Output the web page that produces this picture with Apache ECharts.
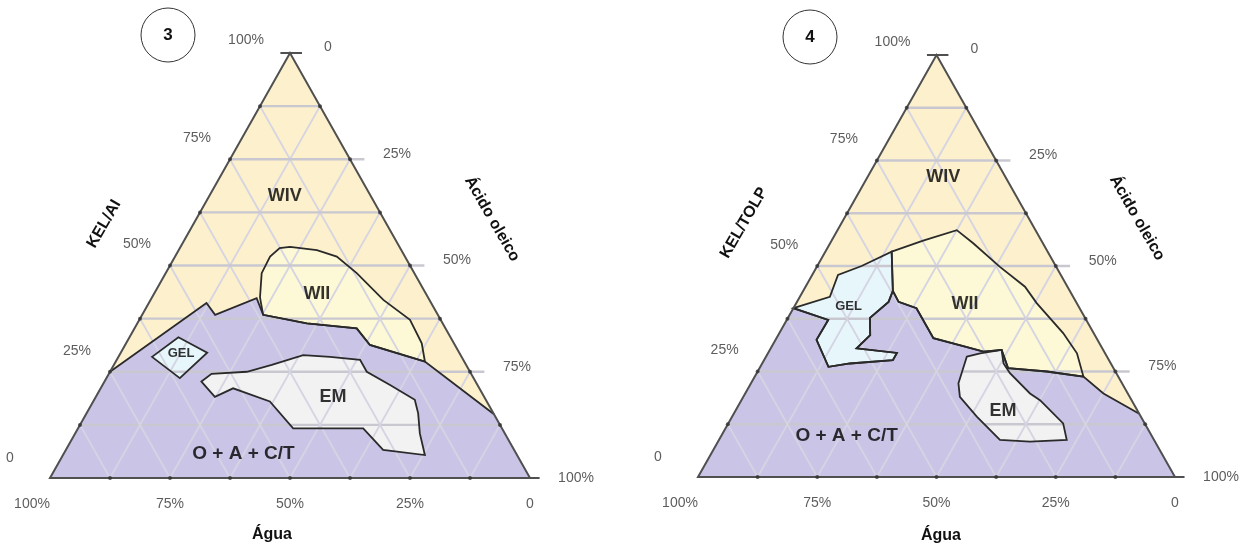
<!DOCTYPE html>
<html>
<head>
<meta charset="utf-8">
<script src="https://cdn.jsdelivr.net/npm/echarts@6/dist/echarts.min.js"></script>
<style>
html, body { margin: 0; background: #fff; }
#main { width: 1257px; height: 550px; }
</style>
</head>
<body>
<div id="main"></div>
<script>
// ternary points are [agua %, KEL %], acido = 100 - agua - KEL
var gridSteps = [12.5, 25, 37.5, 50, 62.5, 75, 87.5];
var tickValues = [0, 25, 50, 75, 100];
var tickLabels = ['0', '25%', '50%', '75%', '100%'];
var regionNames = ['WIV', 'WII', 'GEL', 'EM', 'O + A + C/T'];

var whole = [[100, 0], [0, 0], [0, 100]];

// diagrama 3 (KEL/AI)
var oactTop3 = [[75, 25], [46.8, 41.2], [46.4, 38.4], [35.8, 42.3], [36.4, 38.4], [28.3, 36.4],
	[18.5, 35.2], [17.7, 31.3], [8.2, 27.4], [0, 15]];
var wii3 = [[22.8, 54.4], [17.6, 53.6], [14.2, 52.1], [12.0, 48.2], [9.6, 41.9], [6.4, 37.2],
	[6.7, 31.7], [8.2, 27.4], [17.7, 31.3], [18.5, 35.2], [28.3, 36.4], [36.4, 38.4],
	[35.0, 42.5], [31.8, 48.2], [28.1, 52.1], [25.1, 54.1]];
var gel3 = [[64.5, 28.5], [56.7, 33.1], [52.5, 29.5], [61.2, 23.5]];
var em3 = [[57.1, 22.7], [54.1, 24.5], [46.5, 25.0], [40.5, 26.6], [32.8, 28.9], [27.4, 28.5],
	[21.5, 27.8], [21.5, 25.0], [18.2, 21.9], [14.8, 18.4], [15.7, 15.2], [17.7, 10.5],
	[19.2, 5.4], [27.3, 6.6], [28.9, 11.7], [43.5, 11.7], [45.2, 18.0], [51.3, 21.1], [56.1, 19.1]];
var labelPos3 = [[17.9, 66.4], [22.7, 43.4], [58.1, 29.2], [31.5, 19.1], [56.9, 5.6]];

// diagrama 4 (KEL/TOLP)
var oactTop4 = [[60, 40], [54.1, 37.2], [58.9, 32.5], [59.6, 26.1], [54.7, 26.9], [45.3, 27.7],
	[43.6, 29.4], [51.5, 30.5], [47.1, 33.6], [45.1, 37.7], [39.3, 41.5], [37.1, 44.1],
	[37.2, 41.5], [34.2, 40.0], [34.2, 32.9], [28.9, 31.0], [25.3, 29.7], [21.3, 30.1],
	[22.1, 25.8], [14.4, 25.0], [7.3, 23.8], [5.1, 19.8], [0, 15]];
var wii4 = [[32.7, 53.4], [24.8, 56.0], [16.5, 58.5], [14.6, 55.4], [11.8, 49.8], [8.9, 45.1],
	[8.4, 41.2], [6.4, 34.1], [5.9, 29.3], [7.3, 23.8], [14.4, 25.0], [22.1, 25.8],
	[21.3, 30.1], [25.3, 29.7], [28.9, 31.0], [34.2, 32.9], [34.2, 40.0], [37.2, 41.5], [37.1, 44.1]];
var gel4 = [[60, 40], [51.0, 42.7], [46.7, 47.9], [40.7, 50.0], [32.7, 53.4], [37.1, 44.1],
	[39.3, 41.5], [45.1, 37.7], [47.1, 33.6], [51.5, 30.5], [43.6, 29.4], [45.3, 27.7],
	[54.7, 26.9], [59.6, 26.1], [58.9, 32.5], [54.1, 37.2]];
var em4 = [[29.4, 28.5], [26.2, 29.3], [21.3, 30.1], [22.5, 26.9], [22.3, 24.6], [20.5, 19.8],
	[19.2, 18.2], [17.1, 12.7], [18.3, 8.8], [26.2, 8.4], [32.3, 8.8], [34.4, 14.3],
	[35.6, 19.0], [34.3, 22.2]];
var labelPos4 = [[13.1, 71.0], [23.5, 41.1], [48.2, 40.5], [28.2, 15.7], [64.0, 9.7]];

var FONT = '"Liberation Sans", Arial, sans-serif';
var cWIV = '#fcf0cd', cWII = '#fdf9d6', cOACT = '#cac5e7', cGEL = '#e7f6fa', cEM = '#f2f2f2';
var cLine = '#2a2a2a';

function toXY(p) {
	return [100 - p[0] - p[1] / 2, p[1]];
}

function shape(gi, pts, type, style, z) {
	return {
		type: 'custom', xAxisIndex: gi, yAxisIndex: gi, z: z, silent: true, clip: false,
		data: [[50, 50]],
		renderItem: function (params, api) {
			return {
				type: type,
				shape: { points: pts.map(function (p) { return api.coord(toXY(p)); }) },
				style: style
			};
		}
	};
}

function gridLines(gi) {
	var segs = [];
	gridSteps.forEach(function (s) {
		var ext = s % 25 === 0 ? 3 : 0;
		var a = toXY([100 - s, s]), b = toXY([0, s]);
		segs.push([a[0], a[1], b[0] + ext, b[1], 0]);
		a = toXY([s, 0]); b = toXY([s, 100 - s]);
		segs.push([a[0], a[1], b[0], b[1], 1]);
		a = toXY([100 - s, 0]); b = toXY([0, 100 - s]);
		segs.push([a[0], a[1], b[0], b[1], 1]);
	});
	// small stubs at the corners
	segs.push([100, 0, 102, 0, 2]);
	segs.push([48, 100, 52.5, 100, 2]);
	return {
		type: 'custom', xAxisIndex: gi, yAxisIndex: gi, z: 2, silent: true, clip: false,
		encode: { x: [0, 2], y: [1, 3] },
		data: segs,
		renderItem: function (params, api) {
			var p1 = api.coord([api.value(0), api.value(1)]);
			var p2 = api.coord([api.value(2), api.value(3)]);
			var k = api.value(4);
			return {
				type: 'line',
				shape: { x1: p1[0], y1: p1[1], x2: p2[0], y2: p2[1] },
				style: {
					stroke: k === 0 ? '#c9c8d0' : (k === 2 ? '#505050' : '#d5d4e3'),
					lineWidth: k === 0 ? 2.4 : (k === 2 ? 2 : 1.8)
				}
			};
		}
	};
}

function tickDots(gi) {
	var d = [];
	gridSteps.forEach(function (s) {
		d.push(toXY([100 - s, s]));
		d.push(toXY([0, 100 - s]));
		d.push(toXY([s, 0]));
	});
	return {
		type: 'scatter', xAxisIndex: gi, yAxisIndex: gi, z: 4, silent: true, clip: false,
		symbol: 'circle', symbolSize: 4, itemStyle: { color: '#333' }, data: d
	};
}

function tickText(gi) {
	var d = [];
	tickValues.forEach(function (t, i) {
		// KEL (left edge)
		var off = t === 100 ? [-44, -13] : (t === 0 ? [-40, -20] : [-33, -21]);
		d.push({ name: tickLabels[i], value: toXY([100 - t, t]), label: { offset: off } });
		// acido oleico (right edge)
		off = t === 0 ? [38, -6] : (t === 100 ? [46, 0] : [47, -5]);
		d.push({ name: tickLabels[i], value: toXY([0, 100 - t]), label: { offset: off } });
		// agua (bottom)
		off = t === 100 ? [-18, 26] : [0, 26];
		d.push({ name: tickLabels[i], value: toXY([t, 0]), label: { offset: off } });
	});
	return {
		type: 'scatter', xAxisIndex: gi, yAxisIndex: gi, z: 5, silent: true, clip: false,
		symbolSize: 0, data: d,
		label: {
			show: true, position: 'inside', formatter: '{b}',
			fontFamily: FONT, fontSize: 14, color: '#333'
		}
	};
}

function regionText(gi, pos) {
	var sizes = [18, 18, 13, 18, 19];
	return {
		type: 'scatter', xAxisIndex: gi, yAxisIndex: gi, z: 6, silent: true, clip: false,
		symbolSize: 0,
		data: pos.map(function (p, i) {
			return { name: regionNames[i], value: toXY(p), label: { fontSize: sizes[i] } };
		}),
		label: {
			show: true, position: 'inside', formatter: '{b}',
			fontFamily: FONT, fontWeight: 'bold', color: '#000'
		}
	};
}

function diagram(gi, oactTop, wii, gel, em, labelPos) {
	var fill = function (c) { return { fill: c, stroke: null }; };
	var edge = { fill: null, stroke: cLine, lineWidth: 1.8 };
	return [
		shape(gi, whole, 'polygon', fill(cWIV), 1),
		shape(gi, oactTop.concat([[0, 0], [100, 0]]), 'polygon', fill(cOACT), 1),
		shape(gi, wii, 'polygon', fill(cWII), 1),
		shape(gi, gel, 'polygon', fill(cGEL), 1),
		shape(gi, em, 'polygon', fill(cEM), 1),
		gridLines(gi),
		shape(gi, oactTop, 'polyline', edge, 3),
		shape(gi, wii, 'polygon', edge, 3),
		shape(gi, gel, 'polygon', edge, 3),
		shape(gi, em, 'polygon', edge, 3),
		shape(gi, whole, 'polygon', { fill: null, stroke: '#505050', lineWidth: 2 }, 3),
		tickDots(gi),
		tickText(gi),
		regionText(gi, labelPos)
	];
}

function title(txt, x, y, rot, size) {
	return {
		type: 'text', x: x, y: y, rotation: rot, z: 10,
		style: {
			text: txt, x: 0, y: 0, align: 'center', verticalAlign: 'middle',
			font: 'bold ' + size + 'px ' + FONT, fill: '#111'
		}
	};
}

function badge(txt, x, y) {
	return [
		{ type: 'circle', shape: { cx: x, cy: y, r: 27 }, style: { fill: '#fff', stroke: '#333', lineWidth: 1 }, z: 10 },
		title(txt, x, y, 0, 17)
	];
}

var myChart = echarts.init(document.getElementById('main'));
var ax = { type: 'value', min: 0, max: 100, show: false };
var option = {
	animation: false,
	grid: [
		{ left: 50, top: 53, width: 480, height: 425 },
		{ left: 698, top: 55, width: 477, height: 422 }
	],
	xAxis: [Object.assign({ gridIndex: 0 }, ax), Object.assign({ gridIndex: 1 }, ax)],
	yAxis: [Object.assign({ gridIndex: 0 }, ax), Object.assign({ gridIndex: 1 }, ax)],
	series: diagram(0, oactTop3, wii3, gel3, em3, labelPos3)
		.concat(diagram(1, oactTop4, wii4, gel4, em4, labelPos4)),
	graphic: [].concat(
		badge('3', 168, 35),
		badge('4', 810, 37),
		[
			title('KEL/AI', 104, 224, Math.PI / 3, 16),
			title('Ácido oleico', 492, 219, -Math.PI / 3, 16),
			title('Água', 272, 535, 0, 16),
			title('KEL/TOLP', 744, 223, Math.PI / 3, 16),
			title('Ácido oleico', 1137, 218, -Math.PI / 3, 16),
			title('Água', 941, 536, 0, 16)
		]
	)
};
myChart.setOption(option);
window.onresize = function () {
	myChart.resize();
};
</script>
</body>
</html>
